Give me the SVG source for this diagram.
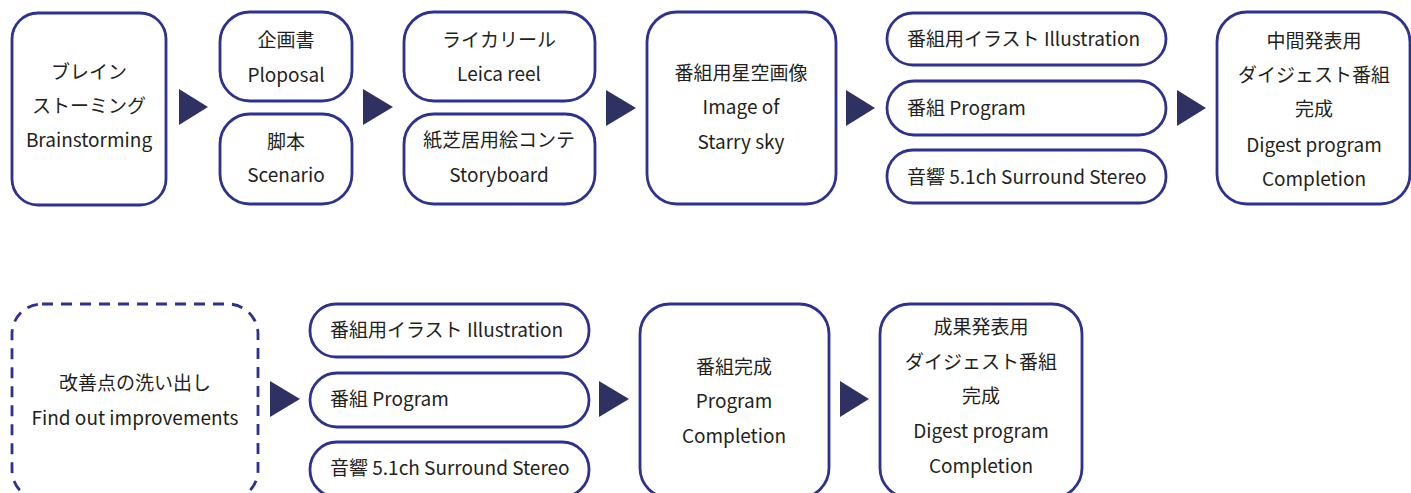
<svg xmlns="http://www.w3.org/2000/svg" width="1411" height="493" viewBox="0 0 1411 493">
<style>
.b{fill:#fff;stroke:#2e3190;stroke-width:2.8}
.d{fill:#fff;stroke:#2e3190;stroke-width:2.8;stroke-dasharray:11 8}
.a{fill:#2f3163}
text{font-family:"Noto Sans CJK JP","Noto Sans",sans-serif;font-size:19px;fill:#231f20}
.c{text-anchor:middle}
</style>
<rect width="1411" height="493" fill="#fff"/>
<g id="connectors">
<polygon class="a" points="179,89 179,125 208,107"/>
<polygon class="a" points="363,89 363,125 393,107"/>
<polygon class="a" points="606,90 606,126 636,108"/>
<polygon class="a" points="846,90 846,126 875,108"/>
<polygon class="a" points="1177,90 1177,126 1206,108"/>
<polygon class="a" points="270,381 270,417 300,399"/>
<polygon class="a" points="599,381 599,417 629,399"/>
<polygon class="a" points="840,381 840,417 869,399"/>
</g>
<g id="n1"><rect class="b" x="12" y="13" width="154" height="192" rx="26"/>
<text class="c" x="89" y="79">ブレイン</text><text class="c" x="89" y="113">ストーミング</text><text class="c" x="89" y="147">Brainstorming</text></g>
<g id="n2"><rect class="b" x="220" y="12" width="132" height="89" rx="30"/>
<text class="c" x="286" y="47">企画書</text><text class="c" x="286" y="82">Ploposal</text></g>
<g id="n3"><rect class="b" x="220" y="114" width="132" height="90" rx="30"/>
<text class="c" x="286" y="149">脚本</text><text class="c" x="286" y="182">Scenario</text></g>
<g id="n4"><rect class="b" x="404" y="12" width="191" height="89" rx="30"/>
<text class="c" x="499" y="47">ライカリール</text><text class="c" x="499" y="81">Leica reel</text></g>
<g id="n5"><rect class="b" x="404" y="114" width="191" height="90" rx="30"/>
<text class="c" x="499" y="147">紙芝居用絵コンテ</text><text class="c" x="499" y="182">Storyboard</text></g>
<g id="n6"><rect class="b" x="647" y="12" width="189" height="192" rx="30"/>
<text class="c" x="741" y="80">番組用星空画像</text><text class="c" x="741" y="114">Image of</text><text class="c" x="741" y="149">Starry sky</text></g>
<g id="n7"><rect class="b" x="887" y="13" width="279" height="52" rx="26"/>
<text x="907" y="46">番組用イラスト Illustration</text></g>
<g id="n8"><rect class="b" x="887" y="81" width="279" height="54" rx="27"/>
<text x="907" y="115">番組 Program</text></g>
<g id="n9"><rect class="b" x="887" y="150" width="279" height="53" rx="26"/>
<text x="907" y="184">音響 5.1ch Surround Stereo</text></g>
<g id="n10"><rect class="b" x="1217" y="12" width="193" height="192" rx="30"/>
<text class="c" x="1314" y="48">中間発表用</text><text class="c" x="1314" y="82">ダイジェスト番組</text><text class="c" x="1314" y="116">完成</text><text class="c" x="1314" y="152">Digest program</text><text class="c" x="1314" y="186">Completion</text></g>
<g id="n11"><rect class="d" x="12" y="304" width="246" height="196" rx="30"/>
<text class="c" x="135" y="390">改善点の洗い出し</text><text class="c" x="135" y="425">Find out improvements</text></g>
<g id="n12"><rect class="b" x="310" y="304" width="279" height="53" rx="26"/>
<text x="330" y="337">番組用イラスト Illustration</text></g>
<g id="n13"><rect class="b" x="310" y="373" width="279" height="54" rx="27"/>
<text x="330" y="406">番組 Program</text></g>
<g id="n14"><rect class="b" x="310" y="442" width="279" height="55" rx="27"/>
<text x="330" y="475">音響 5.1ch Surround Stereo</text></g>
<g id="n15"><rect class="b" x="640" y="304" width="189" height="194" rx="30"/>
<text class="c" x="734" y="374">番組完成</text><text class="c" x="734" y="408">Program</text><text class="c" x="734" y="443">Completion</text></g>
<g id="n16"><rect class="b" x="880" y="304" width="202" height="194" rx="30"/>
<text class="c" x="981" y="334">成果発表用</text><text class="c" x="981" y="369">ダイジェスト番組</text><text class="c" x="981" y="403">完成</text><text class="c" x="981" y="438">Digest program</text><text class="c" x="981" y="473">Completion</text></g>
</svg>
